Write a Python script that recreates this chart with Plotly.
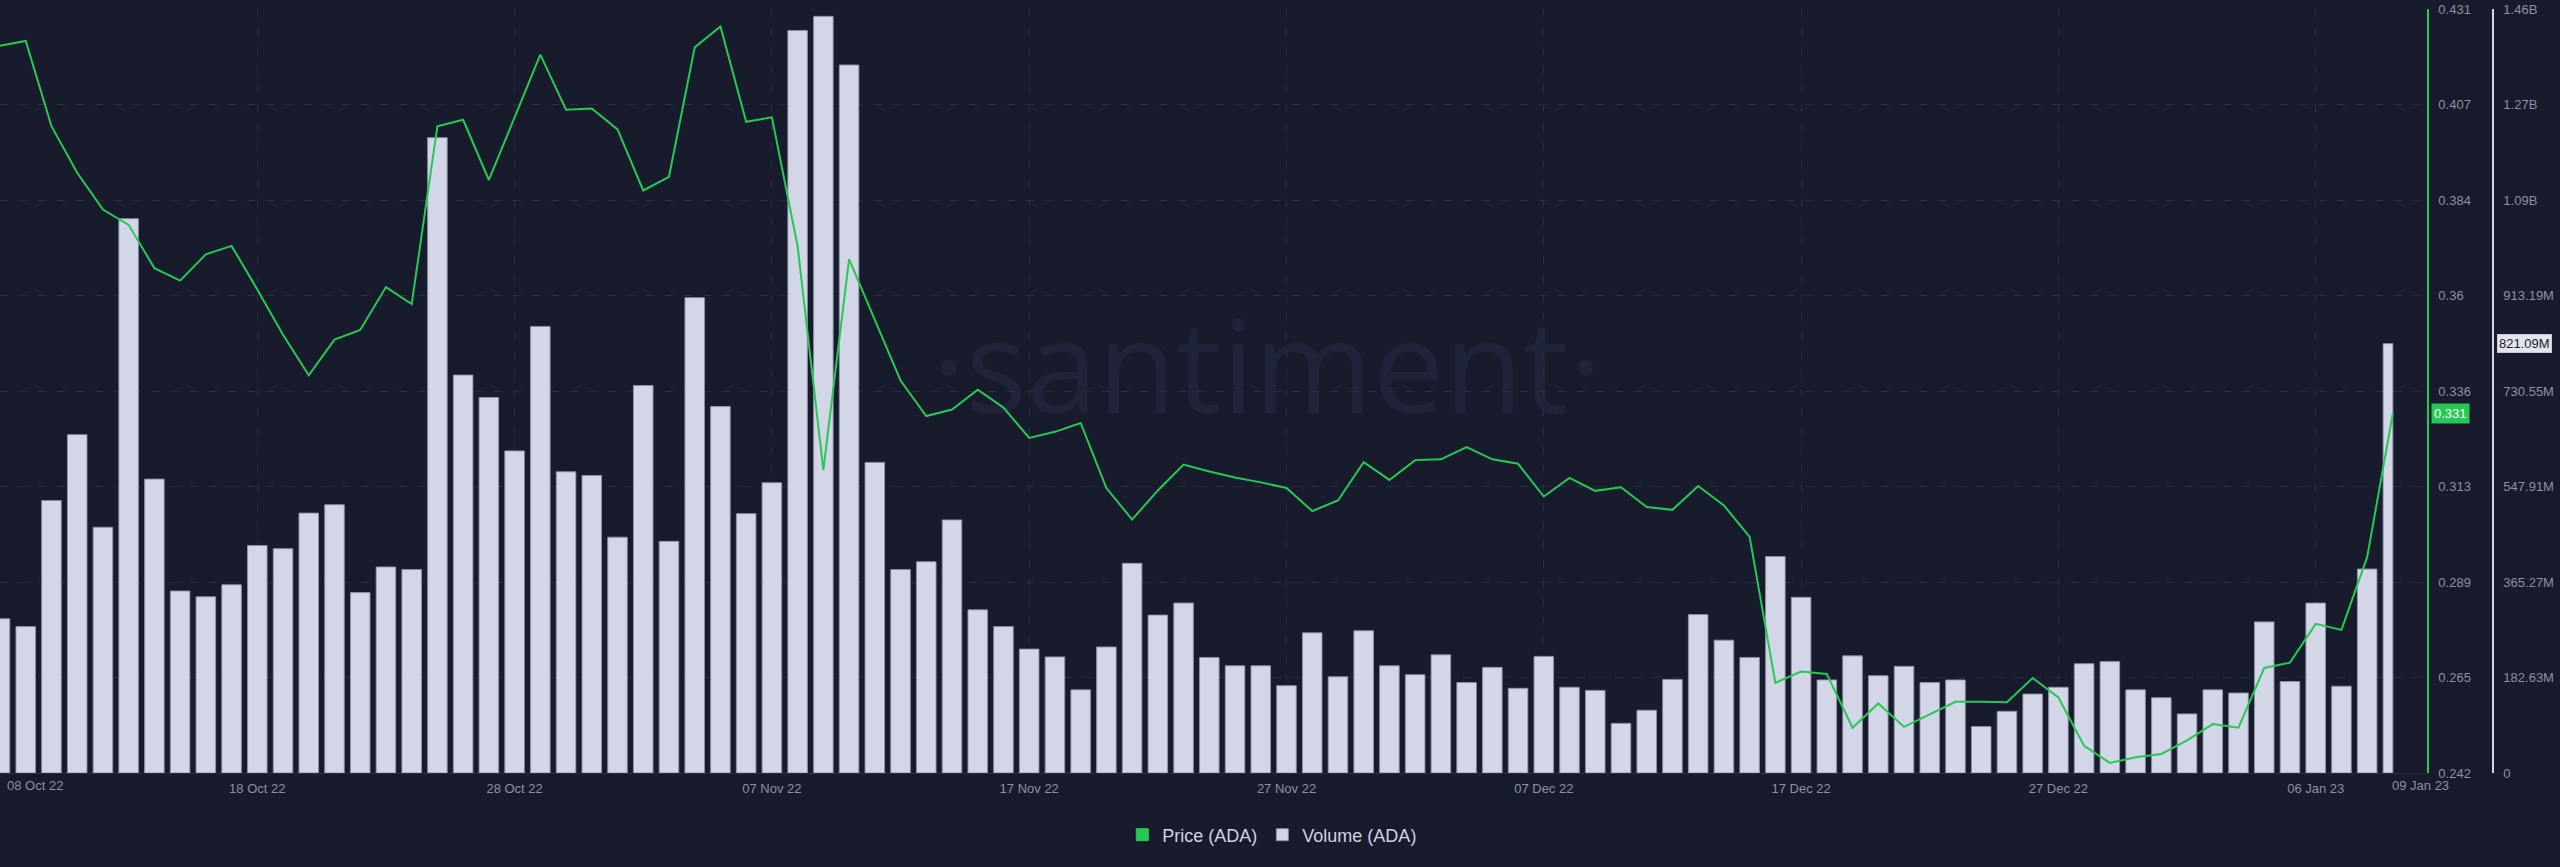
import pandas as pd
import plotly.graph_objects as go

# ---------------- data ----------------
start_date = "2022-10-08"
n_days = 94
dates = pd.date_range(start_date, periods=n_days, freq="D")

price = [
    0.4219, 0.4231, 0.4020, 0.3905, 0.3814, 0.3776, 0.3669, 0.3638, 0.3703, 0.3724,
    0.3616, 0.3504, 0.3404, 0.3492, 0.3516, 0.3622, 0.3580, 0.4020, 0.4036, 0.3887,
    0.4042, 0.4197, 0.4061, 0.4064, 0.4012, 0.3861, 0.3895, 0.4215, 0.4267, 0.4031,
    0.4042, 0.3723, 0.3169, 0.3691, 0.3541, 0.3391, 0.3303, 0.3319, 0.3368, 0.3324,
    0.3249, 0.3264, 0.3286, 0.3125, 0.3047, 0.3119, 0.3183, 0.3166, 0.3151, 0.3139,
    0.3125, 0.3068, 0.3094, 0.3189, 0.3145, 0.3194, 0.3196, 0.3226, 0.3196, 0.3185,
    0.3104, 0.3150, 0.3118, 0.3127, 0.3078, 0.3071, 0.3130, 0.3082, 0.3004, 0.2643,
    0.2671, 0.2665, 0.2532, 0.2592, 0.2534, 0.2566, 0.2596, 0.2596, 0.2595, 0.2655,
    0.2607, 0.2487, 0.2445, 0.2459, 0.2467, 0.2501, 0.2541, 0.2532, 0.2680, 0.2693,
    0.2789, 0.2774, 0.2954, 0.3310,
]

volume_millions = [
    295, 280, 521, 647, 470, 1060, 562, 348, 337, 360,
    435, 429, 497, 513, 345, 394, 389, 1215, 761, 718,
    616, 854, 576, 569, 451, 741, 443, 909, 701, 496,
    555, 1420, 1447, 1354, 594, 389, 404, 484, 312, 280,
    237, 222, 159, 241, 401, 302, 325, 221, 205, 205,
    167, 268, 184, 272, 205, 188, 226, 173, 202, 162,
    223, 164, 158, 95, 120, 179, 303, 254, 221, 414,
    336, 178, 224, 186, 204, 173, 178, 89, 118, 151,
    164, 209, 213, 159, 144, 113, 159, 153, 289, 175,
    325, 166, 390, 821.09,
]
volume = [v * 1e6 for v in volume_millions]

price_range = [0.242, 0.431]
price_tick_text = ["0.242", "0.265", "0.289", "0.313", "0.336", "0.36", "0.384", "0.407", "0.431"]
volume_tick_step = 182.63e6
volume_tick_text = ["0", "182.63M", "365.27M", "547.91M", "730.55M", "913.19M", "1.09B", "1.27B", "1.46B"]

x_tick_dates = ["2022-10-08", "2022-10-18", "2022-10-28", "2022-11-07", "2022-11-17",
                "2022-11-27", "2022-12-07", "2022-12-17", "2022-12-27", "2023-01-06"]
x_tick_text = ["", "18 Oct 22", "28 Oct 22", "07 Nov 22", "17 Nov 22",
               "27 Nov 22", "07 Dec 22", "17 Dec 22", "27 Dec 22", "06 Jan 23"]
first_label = "08 Oct 22"
last_label = "09 Jan 23"

# ---------------- style / geometry ----------------
W, H = 2560, 867
plot_right_px = 2427
vol_axis_px = 2493
top_px, bottom_px = 9, 773
px_per_day = 25.73

BG = "#181b2b"
GRID = "#2a2e41"
TICK = "#8d91a5"
GREEN = "#26c953"
BAR = "#d3d6e7"
FONT = "Liberation Sans, Arial, sans-serif"

DAY_MS = 86400000
bar_w = 0.76 * DAY_MS
widths = [bar_w] * (n_days - 1) + [0.38 * DAY_MS]
offsets = [-bar_w / 2] * (n_days - 1) + [-0.38 * DAY_MS]

x_start = dates[0].strftime("%Y-%m-%d %H:%M:%S")
x_end = (dates[0] + pd.Timedelta(days=plot_right_px / px_per_day)).strftime("%Y-%m-%d %H:%M:%S")
date_str = [d.strftime("%Y-%m-%d") for d in dates]

price_tickvals = [price_range[0] + i * (price_range[1] - price_range[0]) / 8 for i in range(9)]
volume_tickvals = [i * volume_tick_step for i in range(9)]
volume_range = [0, 8 * volume_tick_step]

fig = go.Figure()

fig.add_trace(go.Bar(
    x=date_str, y=volume, name="Volume (ADA)", yaxis="y",
    width=widths, offset=offsets,
    marker=dict(color=BAR, line=dict(color="rgba(140,145,170,0.9)", width=1)),
    legendrank=2,
))

# legend proxy for price (square swatch)
fig.add_trace(go.Bar(
    x=[date_str[0]], y=[0], name="Price (ADA)", yaxis="y",
    width=[0], marker=dict(color=GREEN, line=dict(color=GREEN, width=1)),
    legendrank=1, hoverinfo="skip",
))

fig.add_trace(go.Scatter(
    x=date_str, y=price, name="Price (ADA)", yaxis="y2", mode="lines",
    line=dict(color=GREEN, width=2), showlegend=False,
))

annotations = [
    dict(x=date_str[0], xref="x", y=0, yref="paper", xanchor="left", yanchor="top",
         xshift=5, yshift=-3, text=first_label, showarrow=False,
         font=dict(family=FONT, size=13, color=TICK)),
    dict(x=date_str[-1], xref="x", y=0, yref="paper", xanchor="left", yanchor="top",
         xshift=-3, yshift=-3, text=last_label, showarrow=False,
         font=dict(family=FONT, size=13, color=TICK)),
    dict(x=(plot_right_px + 4) / W, xref="paper", y=price[-1], yref="y2",
         xanchor="left", yanchor="middle", text=f"{price[-1]:.3f}", showarrow=False,
         bgcolor=GREEN, borderpad=2, font=dict(family=FONT, size=13, color="#ffffff")),
    dict(x=(vol_axis_px + 4) / W, xref="paper", y=volume[-1], yref="y",
         xanchor="left", yanchor="middle", text=f"{volume[-1] / 1e6:.2f}M", showarrow=False,
         bgcolor="#e2e4ee", bordercolor="#c8cbd8", borderwidth=1, borderpad=1,
         font=dict(family=FONT, size=13, color=BG)),
]

shapes = [
    dict(type="rect", xref="paper", yref="paper",
         x0=0.30, x1=0.69, y0=0.4236, y1=0.6236,
         line=dict(width=0), fillcolor="rgba(0,0,0,0)", layer="below",
         label=dict(text="·santiment·", textposition="middle center",
                    font=dict(family="Open Sans", size=128, color="#20243a"))),
]

fig.update_layout(
    width=W, height=H,
    paper_bgcolor=BG, plot_bgcolor=BG,
    margin=dict(l=0, r=0, t=top_px, b=H - bottom_px),
    barmode="overlay",
    font=dict(family=FONT, size=13, color=TICK),
    showlegend=True,
    legend=dict(orientation="h", xref="container", yref="container",
                x=0.497, xanchor="center", y=1 - 835 / H, yanchor="middle",
                font=dict(family=FONT, size=18, color="#d0d3e0"),
                bgcolor="rgba(0,0,0,0)", itemwidth=30),
    xaxis=dict(
        type="date",
        domain=[0, plot_right_px / W],
        range=[x_start, x_end],
        tickvals=x_tick_dates, ticktext=x_tick_text,
        showgrid=True, gridcolor=GRID, griddash="8px,11px", gridwidth=1,
        showline=True, linecolor=GRID, linewidth=1,
        ticks="", ticklabelstandoff=3,
        tickfont=dict(family=FONT, size=13, color=TICK),
        zeroline=False,
    ),
    yaxis=dict(
        range=volume_range, tickvals=volume_tickvals, ticktext=volume_tick_text,
        side="right", anchor="free", position=vol_axis_px / W,
        showline=True, linecolor=BAR, linewidth=1.5,
        showgrid=True, gridcolor=GRID, griddash="8px,11px", gridwidth=1,
        zeroline=False, ticks="", ticklabelstandoff=7,
        tickfont=dict(family=FONT, size=13, color=TICK),
    ),
    yaxis2=dict(
        range=price_range, tickvals=price_tickvals, ticktext=price_tick_text,
        side="right", anchor="x", overlaying="y",
        showline=True, linecolor=GREEN, linewidth=1.5,
        showgrid=False, zeroline=False, ticks="", ticklabelstandoff=7,
        tickfont=dict(family=FONT, size=13, color=TICK),
    ),
    annotations=annotations,
    shapes=shapes,
    hovermode=False,
)

fig.write_html(
    "out.html",
    config={"displayModeBar": False},
    post_script="document.body.style.margin='0';document.body.style.background='" + BG + "';",
)
